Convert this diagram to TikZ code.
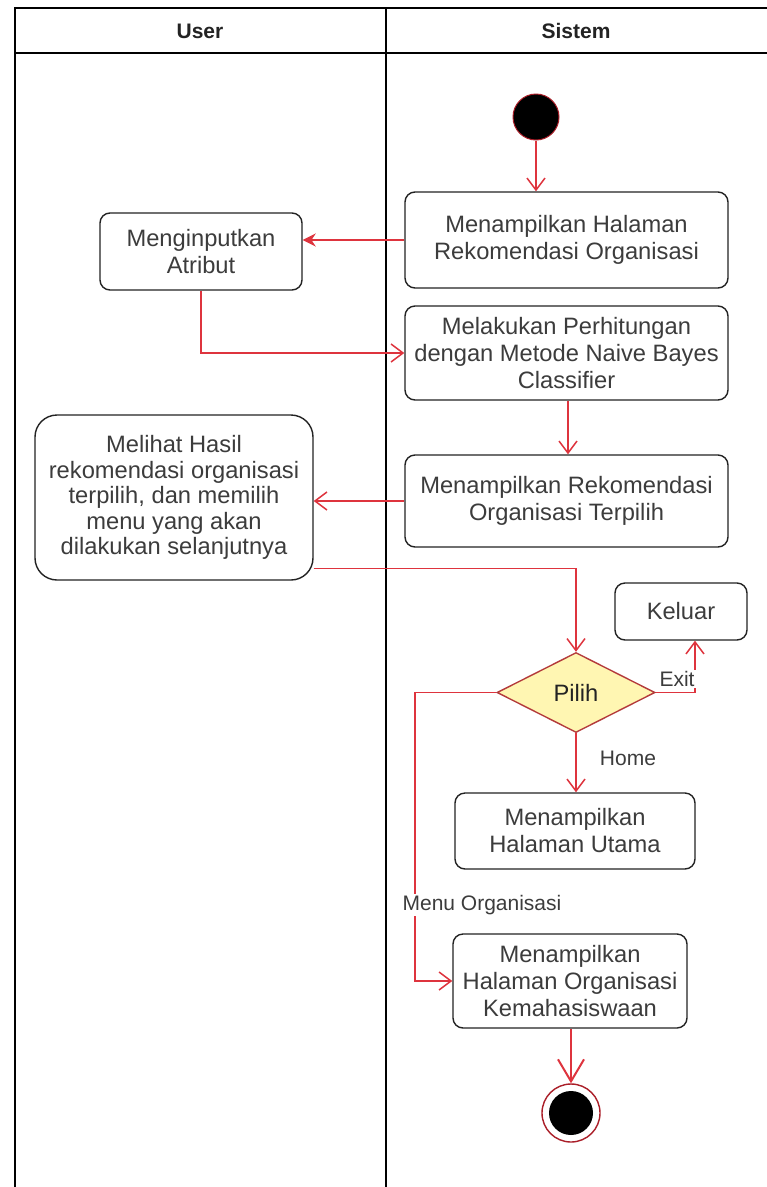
\documentclass[tikz,border=0pt]{standalone}
\usepackage{fontspec}
\setmainfont{Liberation Sans}
\usetikzlibrary{arrows.meta,shapes.geometric}
\definecolor{flow}{RGB}{222,52,62}
\definecolor{edge}{RGB}{35,35,35}
\definecolor{ink}{RGB}{60,60,60}
\definecolor{decfill}{RGB}{255,246,178}
\definecolor{decline}{RGB}{180,60,60}
\definecolor{ringred}{RGB}{170,30,40}
\begin{document}
\begin{tikzpicture}[x=1pt,y=-1pt,
  act/.style={draw=edge, line width=1.4pt, rounded corners=10pt, align=center,
    text=ink, font=\fontsize{23.7}{27}\selectfont, inner sep=0pt},
  flowline/.style={draw=flow, line width=1.7pt,
    -{Straight Barb[length=12pt,width=18pt,line width=1.5pt]}},
  lbl/.style={text=ink, font=\fontsize{21}{24}\selectfont, inner sep=1.5pt},
  lane/.style={draw=black, line width=1.6pt},
  head/.style={font=\bfseries\fontsize{21}{24}\selectfont, text=edge}]
\useasboundingbox (0,0) rectangle (767,1187);
\fill[white] (0,0) rectangle (767,1187);

% swimlanes
\draw[lane] (15,1187) -- (15,8) -- (767,8);
\draw[lane] (15,53) -- (767,53);
\draw[lane] (386,8) -- (386,1187);
\node[head] (hu) at (200,31) {User};
\node[head] (hs) at (576,31) {Sistem};

% start and end
\node[circle, fill=black, draw=ringred, line width=1pt, minimum size=46pt, inner sep=0pt] (start) at (536,117) {};
\node[circle, draw=ringred, fill=white, line width=1.4pt, minimum size=58pt, inner sep=0pt] (stop) at (571,1113) {};
\node[circle, fill=black, minimum size=44pt, inner sep=0pt] (stopdot) at (stop.center) {};

% activities
\node[act, minimum width=323pt, minimum height=96pt] (a1) at (566.5,240)
  {Menampilkan Halaman\\Rekomendasi Organisasi};
\node[act, minimum width=202pt, minimum height=77pt] (inp) at (201,251.5)
  {Menginputkan\\Atribut};
\node[act, minimum width=323pt, minimum height=94pt] (a2) at (566.5,353)
  {Melakukan Perhitungan\\dengan Metode Naive Bayes\\Classifier};
\node[act, minimum width=323pt, minimum height=92pt] (a3) at (566.5,501)
  {Menampilkan Rekomendasi\\Organisasi Terpilih};
\node[act, rounded corners=22pt, minimum width=278pt, minimum height=165pt,
  font=\fontsize{23.7}{25.5}\selectfont] (see) at (174,497.5)
  {Melihat Hasil\\rekomendasi organisasi\\terpilih, dan memilih\\menu yang akan\\dilakukan selanjutnya};
\node[diamond, draw=decline, fill=decfill, line width=1.4pt, minimum width=158pt,
  minimum height=80pt, inner sep=0pt, text=edge, font=\fontsize{23.7}{27}\selectfont] (pilih) at (576,692.5) {Pilih};
\node[act, minimum width=132pt, minimum height=57pt] (out) at (681,611.5) {Keluar};
\node[act, minimum width=240pt, minimum height=76pt] (home) at (575,831)
  {Menampilkan\\Halaman Utama};
\node[act, minimum width=234pt, minimum height=94pt] (org) at (570,981)
  {Menampilkan\\Halaman Organisasi\\Kemahasiswaan};

% connectors
\draw[flowline] (start.south) -- (start.south |- a1.north);
\draw[draw=flow, line width=1.8pt, -{Stealth[length=13pt,width=13pt]}, fill=flow]
  (a1.west) -- (a1.west -| inp.east);
\draw[flowline] (inp.south) |- (a2.west);
\draw[flowline] ([xshift=1.5pt]a2.south) -- ([xshift=1.5pt]a2.south |- a3.north);
\draw[flowline] (a3.west) -- (a3.west -| see.east);
\draw[flowline] ([yshift=-71pt]see.east) -| (pilih.north);
\draw[flowline] (pilih.east) -| ([xshift=14pt]out.south);
\node[lbl, fill=white] (lexit) at (677,679) {Exit};
\draw[flowline] (pilih.south) -- (pilih.south |- home.north);
\node[lbl] (lhome) at (628,758) {Home};
\draw[flowline] (pilih.west) -- ++(-81.5,0) |- (org.west);
\node[lbl, fill=white] (lmenu) at (482,905) {Menu Organisasi};
\draw[draw=flow, line width=2.4pt,
  -{Straight Barb[length=22pt,width=26pt,line width=2pt]}] ([xshift=1pt]org.south) -- (stop.north);
\end{tikzpicture}
\end{document}
